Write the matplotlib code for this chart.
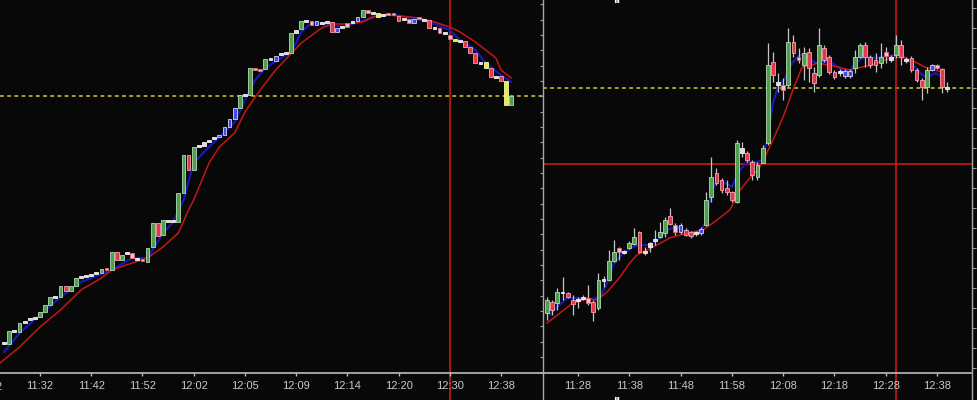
import numpy as np
import matplotlib
matplotlib.use("Agg")
import matplotlib.pyplot as plt
from matplotlib.lines import Line2D

# values are heights above the time axis (chart points)

# ---- left chart: tick bars ----
left_open = [30, 29, 42, 41, 51, 54, 55, 56, 61, 68,
             76, 76, 87, 82, 87, 96, 97, 98, 100, 100,
             104, 103, 121, 113, 120, 120, 114, 113, 111, 126,
             150, 138, 152, 152, 151, 180, 218, 203, 227, 227,
             232, 235, 236, 238, 246, 254, 265, 278, 278, 304,
             303, 304, 314, 312, 319, 320, 320, 340, 344, 352,
             352, 348, 350, 351, 351, 341, 346, 346, 351, 352,
             356, 363, 360, 360, 358, 359, 359, 357, 354, 354,
             350, 355, 353, 353, 345, 345, 340, 338, 334, 332,
             332, 326, 320, 310, 311, 305, 296, 297, 292, 268]
left_close = [30, 42, 42, 50, 51, 54, 55, 61, 68, 76,
              76, 87, 82, 87, 95, 96, 97, 98, 100, 104,
              104, 121, 113, 118, 120, 115, 114, 113, 125, 150,
              137, 153, 152, 152, 180, 218, 203, 226, 227, 231,
              232, 235, 238, 246, 254, 265, 278, 278, 305, 304,
              303, 314, 314, 317, 319, 320, 340, 343, 352, 352,
              348, 352, 350, 351, 341, 345, 346, 350, 351, 356,
              363, 360, 360, 356, 358, 359, 359, 352, 354, 350,
              354, 355, 353, 345, 345, 340, 340, 334, 332, 332,
              326, 320, 310, 310, 305, 296, 296, 292, 268, 277]
left_kind = ("wgwgwwwggg" "wgrggwwwwg" "pgrgwpwpgg" "rgwwggrgww" "wwbbbbgwgp"
             "pgwbwwgwgw" "pbwwrbwpwb" "gpwywpprwp" "bpwrwpwpyw" "rrrwyrwryg")
left_tick_idx = [7, 17, 27, 37, 47, 57, 67, 77, 87, 97]
left_tick_lab = ["11:32", "11:42", "11:52", "12:02", "12:05",
                 "12:09", "12:14", "12:20", "12:30", "12:38"]

left_fast_idx = [0, 3, 11, 15, 21, 25, 28, 31, 33, 35, 37, 40, 42, 45, 47, 49, 51,
                 54, 56, 58, 60, 64, 66, 70, 73, 76, 80, 83, 87, 89, 92, 94, 97, 99]
left_fast = [21, 40, 76, 91, 103, 115, 115, 140, 151, 173, 210, 226, 236, 251, 273,
             293, 305, 315, 320, 341, 350, 348, 346, 352, 358, 358, 355, 351, 343,
             333, 323, 310, 298, 291]
left_slow_idx = [-0.8, 3, 7, 11, 15, 19, 21, 25, 28, 31, 34, 36, 37, 40, 42, 45, 47,
                 50, 53, 58, 62, 64, 67, 70, 72, 75, 79, 81, 84, 87, 89, 92, 96, 97, 99]
left_slow = [10, 26, 46, 63, 83, 95, 103, 110, 115, 126, 140, 163, 173, 210, 226,
             240, 261, 283, 303, 330, 345, 349, 349, 351, 356, 358, 356, 355, 351,
             346, 341, 331, 315, 303, 295]
left_ref_level = 277
left_cursor = 87

# ---- right chart: 1-minute bars, 11:22 .. 12:40 ----
right_idx = list(range(-6, 73))
right_open = [60, 71, 70, 81, 80, 73, 73, 74, 75, 71, 65, 93, 93, 112, 125, 121,
              125, 129, 141, 121, 126, 133, 136, 140, 157, 148, 141, 143, 141, 140,
              140, 148, 176, 200, 193, 185, 181, 171, 220, 220, 211, 196, 210, 230,
              311, 288, 288, 288, 331, 316, 308, 321, 300, 298, 325, 316, 301, 301,
              297, 297, 305, 316, 328, 316, 313, 310, 321, 313, 318, 328, 313, 315,
              303, 293, 286, 303, 308, 304, 285]
right_high = [76, 73, 85, 96, 81, 78, 76, 78, 88, 73, 100, 97, 123, 133, 126, 123,
              132, 145, 142, 126, 131, 143, 151, 156, 165, 150, 150, 145, 142, 142,
              146, 181, 216, 205, 195, 193, 182, 233, 231, 222, 213, 211, 228, 330,
              321, 300, 295, 345, 338, 325, 326, 325, 306, 345, 328, 318, 303, 304,
              304, 304, 323, 330, 331, 318, 320, 330, 326, 318, 338, 333, 316, 317,
              305, 295, 306, 309, 309, 305, 291]
right_low = [53, 58, 63, 73, 75, 58, 65, 73, 68, 52, 63, 86, 92, 111, 113, 119,
             124, 128, 120, 118, 121, 128, 135, 136, 148, 138, 139, 137, 135, 137,
             138, 147, 171, 188, 180, 178, 171, 170, 216, 211, 193, 193, 210, 228,
             291, 281, 273, 286, 316, 310, 293, 291, 281, 296, 311, 299, 294, 297,
             295, 295, 300, 315, 306, 305, 301, 305, 310, 311, 315, 308, 310, 301,
             291, 273, 280, 302, 304, 280, 281]
right_close = [73, 63, 81, 80, 76, 69, 73, 76, 70, 61, 93, 93, 112, 121, 121, 121,
               130, 136, 121, 121, 130, 133, 141, 153, 149, 141, 148, 138, 137, 140,
               144, 173, 196, 190, 183, 181, 173, 230, 225, 213, 198, 208, 225, 308,
               298, 291, 283, 331, 320, 313, 320, 305, 290, 328, 313, 301, 296, 301,
               302, 302, 316, 328, 316, 308, 308, 316, 317, 316, 328, 316, 313, 303,
               293, 286, 303, 308, 305, 286, 285]
right_kind = ("grgwrr" "wwprgwggpwggrwwwggrpbrrwbggrrrrgwrrggg"
              "rwpgrpgrrgrrrwbbggrrrgpwgrwrrrgbprw")
right_tick_idx = [0, 10, 20, 30, 40, 50, 60, 70]
right_tick_lab = ["11:28", "11:38", "11:48", "11:58", "12:08", "12:18", "12:28", "12:38"]

right_fast_idx = [-5.5, -4.1, -2.1, 0.4, 2.9, 4.3, 5.7, 6.8, 8.8, 10.7, 12.1, 14, 16,
                  17.3, 19.3, 21.2, 23.8, 25.1, 25.9, 27.1, 28.7, 30, 31.6, 32.9,
                  34.9, 35.9, 37, 38, 39, 40.4, 41.7, 43.3, 44.2, 45.2, 46.6, 47.8,
                  49.5, 51.5, 53, 54, 55.9, 57.9, 59.8, 61.8, 63.2, 64.3, 65.7, 67.1,
                  68.2, 69.6, 71.2]
right_fast = [58, 66, 75, 75, 74, 76, 90, 108, 120, 126, 128, 128, 135, 143, 146, 141,
              141, 153, 178, 193, 190, 186, 203, 211, 211, 213, 236, 270, 286, 295,
              310, 318, 318, 313, 310, 311, 310, 303, 301, 310, 316, 315, 316, 318,
              318, 313, 306, 298, 296, 300, 296]
right_slow_idx = [-6, -3.5, -1, 1.8, 3.7, 5.7, 8.2, 10.1, 11.5, 13.5, 15.4, 17.9, 19.9,
                  22.4, 24.4, 27.1, 29.6, 31.6, 33.5, 35.5, 38, 40, 41.9, 43.7, 44.8,
                  46.8, 48.7, 50.7, 53, 54.6, 57.3, 59.8, 61.8, 63.7, 65.7, 67.6,
                  69.6, 71.2]
right_slow = [50, 60, 70, 74, 73, 81, 96, 110, 118, 123, 128, 135, 138, 141, 143, 153,
              163, 183, 195, 206, 233, 256, 283, 306, 307, 310, 308, 306, 303, 305,
              308, 313, 316, 315, 311, 306, 303, 300]
right_ref_level = 285
right_stop_level = 209
right_cursor = 62

# ---- style ----
BG = "#080808"
AXIS = "#bdbdbd"
TXT = "#c8c8c8"
FILL = {"g": "#4f9f4f", "r": "#e4384c", "b": "#4848e2", "y": "#ecec3a",
        "p": "#f0c4ca", "w": "#dcdcdc"}
EDGE = {"g": "#b4dcb4", "r": "#f4a4ac", "b": "#d4d4ff", "y": "#fafab0",
        "p": "#e06474", "w": "#f4f4f4"}
plt.rcParams["font.family"] = ["Liberation Sans", "DejaVu Sans"]

W, H = 978, 400
fig = plt.figure(figsize=(W / 100, H / 100), dpi=100, facecolor=BG)
axl = fig.add_axes([0, 27 / H, 543 / W, 373 / H])
axr = fig.add_axes([543 / W, 27 / H, 429 / W, 373 / H])


def draw_bodies(ax, idx, o, c, kinds, width):
    o = np.asarray(o, float)
    c = np.asarray(c, float)
    lo = np.minimum(o, c)
    ht = np.maximum(np.abs(c - o), 1.4)
    ax.bar(idx, ht, bottom=lo - np.where(c == o, 0.7, 0), width=width,
           color=[FILL[k] for k in kinds], edgecolor=[EDGE[k] for k in kinds],
           linewidth=0.6, zorder=3)


def style_axis(ax, xlim, ticks, labels):
    ax.set_facecolor(BG)
    ax.set_xlim(*xlim)
    ax.set_ylim(0, 373)
    for s in ("top", "left", "right"):
        ax.spines[s].set_visible(False)
    ax.spines["bottom"].set_color(AXIS)
    ax.spines["bottom"].set_linewidth(1.2)
    ax.set_xticks(ticks)
    ax.set_xticklabels(labels)
    ax.tick_params(axis="x", colors=AXIS, labelcolor=TXT, length=2.5, width=1,
                   pad=3.5, labelsize=8)


# left chart
lx = np.arange(len(left_open))
draw_bodies(axl, lx, left_open, left_close, left_kind, 0.74)
axl.plot(left_fast_idx, left_fast, color="#1818b4", lw=1.6, zorder=2)
axl.plot(left_slow_idx, left_slow, color="#c41616", lw=1.1, zorder=2)
axl.axhline(left_ref_level, color="#d8cc2e", lw=1.1, ls=(0, (2.5, 2.2)), zorder=1)
axl.axvline(left_cursor, ymin=-27 / 373, ymax=1, color="#c81818", lw=1.2,
            clip_on=False, zorder=1)
style_axis(axl, (-0.81, 105.2), left_tick_idx, left_tick_lab)
axl.text(left_tick_idx[0] - 10, -14, "11:22", color=TXT, fontsize=8,
         ha="center", va="center", clip_on=False)
axl.yaxis.tick_right()
axl.set_yticks(373 - (4.3 + 15.33 * np.arange(25)))
axl.tick_params(axis="y", direction="inout", length=4, colors="#9a9a9a",
                labelright=False, labelleft=False)

# right chart
rx = np.asarray(right_idx)
axr.vlines(rx, right_low, right_high, color="#c4c4c4", lw=0.9, zorder=2.5)
draw_bodies(axr, rx, right_open, right_close, right_kind, 0.74)
axr.plot(right_fast_idx, right_fast, color="#1818b4", lw=1.6, zorder=2)
axr.plot(right_slow_idx, right_slow, color="#c41616", lw=1.1, zorder=2)
axr.axhline(right_ref_level, color="#d8cc2e", lw=1.1, ls=(0, (2.5, 2.2)), zorder=1)
axr.axhline(right_stop_level, color="#c81818", lw=1.2, zorder=1)
axr.axvline(right_cursor, ymin=-27 / 373, ymax=1, color="#c81818", lw=1.2,
            clip_on=False, zorder=1)
style_axis(axr, (-6.8, 76.8), right_tick_idx, right_tick_lab)
axr.yaxis.tick_right()
axr.set_yticks(365 - 20 * np.arange(19))
axr.tick_params(axis="y", direction="out", length=3, colors="#9a9a9a",
                labelright=False, labelleft=False)

# panel separators
for xp in (543, 972):
    fig.add_artist(Line2D([xp / W, xp / W], [0, 1], transform=fig.transFigure,
                          color="#a8a8a8", lw=1.0))

# clipped captions at the top and bottom edges (cut off in the original too)
fig.text(617 / W, 1 + 6 / H, "II", color="white", fontsize=9, fontweight="bold",
         ha="center", va="top")
fig.text(617 / W, 3 / H, "II", color="white", fontsize=9, fontweight="bold",
         ha="center", va="top")

fig.savefig("out.png", dpi=100, facecolor=BG)
